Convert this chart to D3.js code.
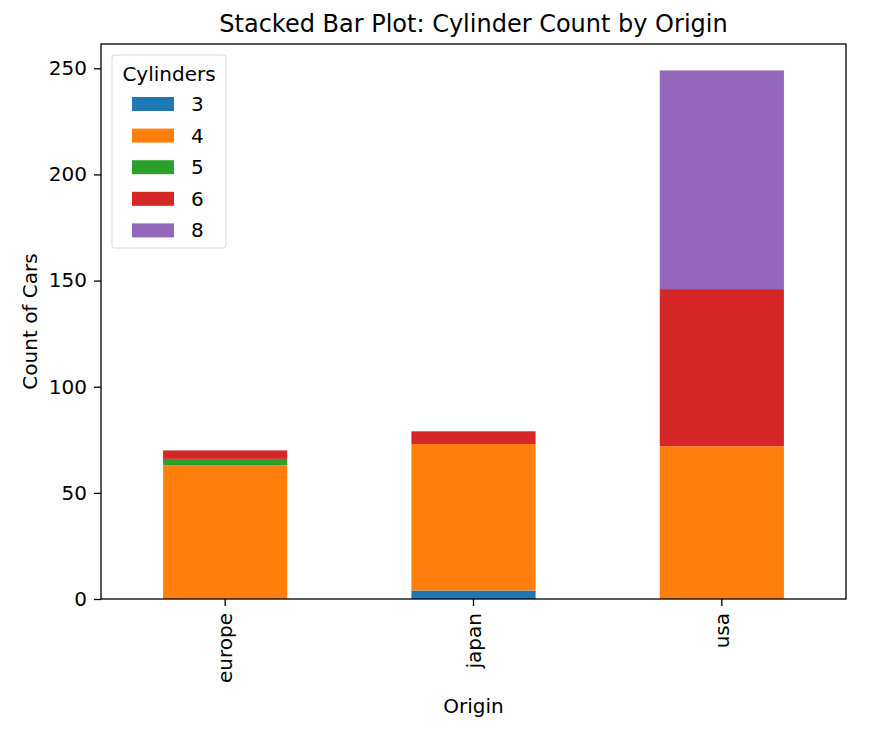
<!DOCTYPE html>
<html><head><meta charset="utf-8">
<script src="https://cdn.jsdelivr.net/npm/d3@7"></script>
<style>body{margin:0;background:#fff;} text{font-family:"DejaVu Sans",sans-serif;fill:#000;}</style>
</head><body>
<svg id="c" width="893" height="729"></svg>
<script>
const origins = ["europe","japan","usa"];
const cylinders = ["3","4","5","6","8"];
const cyl3 = [0,4,0];
const cyl4 = [63,69,72];
const cyl5 = [3,0,0];
const cyl6 = [4,6,74];
const cyl8 = [0,0,103];
const colors = ["#1f77b4","#ff7f0e","#2ca02c","#d62728","#9467bd"];
const yTicks = [0,50,100,150,200,250];

const series = [cyl3,cyl4,cyl5,cyl6,cyl8];
const table = origins.map((o,i)=>{const r={origin:o}; cylinders.forEach((c,j)=>r[c]=series[j][i]); return r;});
const stacked = d3.stack().keys(cylinders)(table);
const maxTotal = d3.max(table, r=>d3.sum(cylinders, c=>r[c]));

const L=101,R=846,T=44,B=599;
const svg=d3.select("#c");
const x=d3.scaleBand().domain(origins).range([L,R]).paddingInner(0.5).paddingOuter(0.25);
const y=d3.scaleLinear().domain([0,maxTotal*1.05]).range([B,T]);

svg.append("g").selectAll("g").data(stacked).join("g").attr("fill",(d,i)=>colors[i])
  .selectAll("rect").data(d=>d).join("rect")
  .attr("x",d=>x(d.data.origin)).attr("width",x.bandwidth())
  .attr("y",d=>y(d[1])).attr("height",d=>y(d[0])-y(d[1]));

const fs=20;
const ya=svg.append("g").attr("transform",`translate(${L},0)`).call(d3.axisLeft(y).tickValues(yTicks).tickSize(7).tickPadding(7));
ya.select(".domain").remove();
ya.selectAll("text").style("font-size",fs+"px").attr("font-family",null);
const xa=svg.append("g").attr("transform",`translate(0,${B})`).call(d3.axisBottom(x).tickSize(7).tickPadding(7));
xa.select(".domain").remove();
xa.selectAll("text").style("font-size",fs+"px").attr("font-family",null)
  .attr("transform","rotate(-90)").attr("text-anchor","end").attr("dy","0.35em").attr("x",-14).attr("y",0);
svg.selectAll(".tick line").attr("stroke","#000").attr("stroke-width",1.3);

svg.append("rect").attr("x",L).attr("y",T).attr("width",R-L).attr("height",B-T)
  .attr("fill","none").attr("stroke","#000").attr("stroke-width",1.3);

svg.append("text").attr("x",(L+R)/2).attr("y",32).attr("text-anchor","middle").style("font-size","24px").text("Stacked Bar Plot: Cylinder Count by Origin");
svg.append("text").attr("x",(L+R)/2).attr("y",713).attr("text-anchor","middle").style("font-size",fs+"px").text("Origin");
svg.append("text").attr("transform",`translate(37,${(T+B)/2}) rotate(-90)`).attr("text-anchor","middle").style("font-size",fs+"px").text("Count of Cars");

// legend
const lg=svg.append("g");
lg.append("rect").attr("x",112).attr("y",55).attr("width",114).attr("height",193).attr("rx",3)
  .attr("fill","#fff").attr("fill-opacity",0.8).attr("stroke","#d9d9d9");
lg.append("text").attr("x",169).attr("y",74).attr("dy","0.35em").attr("text-anchor","middle").style("font-size",fs+"px").text("Cylinders");
cylinders.forEach((c,i)=>{
  const yy=104+i*31.6;
  lg.append("rect").attr("x",132).attr("y",yy-7).attr("width",42).attr("height",14).attr("fill",colors[i]);
  lg.append("text").attr("x",191).attr("y",yy).attr("dy","0.35em").style("font-size",fs+"px").text(c);
});
</script></body></html>
